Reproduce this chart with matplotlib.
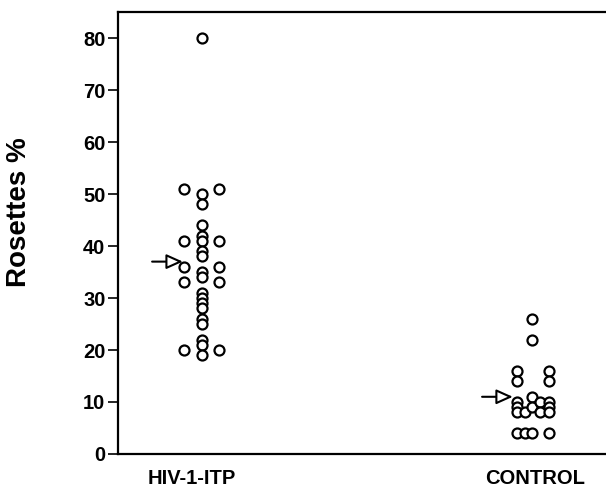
import numpy as np
import matplotlib
matplotlib.use("Agg")
import matplotlib.pyplot as plt

plt.rcParams['font.family'] = ['Liberation Sans', 'DejaVu Sans']

# group names
groups = ['HIV-1-ITP', 'CONTROL']

# HIV-1-ITP values, by column (left, centre, right)
hiv_left = [51, 41, 36, 33, 20]
hiv_mid = [80, 50, 48, 44, 42, 41, 39, 38, 35, 34, 31, 30, 29, 28, 26, 25, 22, 21, 19]
hiv_right = [51, 41, 36, 33, 20]

# CONTROL values, by column
ctl_left = [16, 14, 10, 9, 8, 4]
ctl_midleft = [8, 4]
ctl_mid = [26, 22, 11, 9, 4]
ctl_midright = [10, 8]
ctl_right = [16, 14, 10, 9, 8, 4]

# group means (arrows)
means = [37, 11]

fig = plt.figure(figsize=(6.06, 4.91), dpi=100)
ax = fig.add_axes([0.1947, 0.0754, 0.8053, 0.900])

def scatter(x, vals):
    ax.plot([x] * len(vals), vals, 'o', ms=7.2, mfc='white', mec='black', mew=1.6,
            linestyle='none', clip_on=False)

scatter(1 - 0.055, hiv_left)
scatter(1, hiv_mid)
scatter(1 + 0.05, hiv_right)

scatter(2 - 0.045, ctl_left)
scatter(2 - 0.022, ctl_midleft)
scatter(2, ctl_mid)
scatter(2 + 0.025, ctl_midright)
scatter(2 + 0.05, ctl_right)

# mean arrows
for x, m in zip([1, 2], means):
    ax.annotate('', xy=(x - 0.05, m), xytext=(x - 0.16, m),
                arrowprops=dict(arrowstyle='-|>,head_length=1.0,head_width=0.45',
                                fc='white', ec='black', lw=1.5))

ax.set_xlim(0.745, 2.224)
ax.set_ylim(0, 85)
ax.set_yticks(range(0, 81, 10))
ax.set_xticks([0.97, 2.01])
ax.set_xticklabels(groups, fontsize=14.5, fontweight='bold')
ax.tick_params(axis='x', length=0, pad=11)
ax.tick_params(axis='y', length=7, width=1.2, labelsize=14.5, pad=2)
for lab in ax.get_yticklabels():
    lab.set_fontweight('bold')

ax.spines['right'].set_visible(False)
for s in ['left', 'top', 'bottom']:
    ax.spines[s].set_linewidth(1.6)

ax.set_ylabel('Rosettes %', fontsize=20, fontweight='bold')
ax.yaxis.set_label_coords(-0.176, 0.547)

fig.savefig('out.png', dpi=100)
